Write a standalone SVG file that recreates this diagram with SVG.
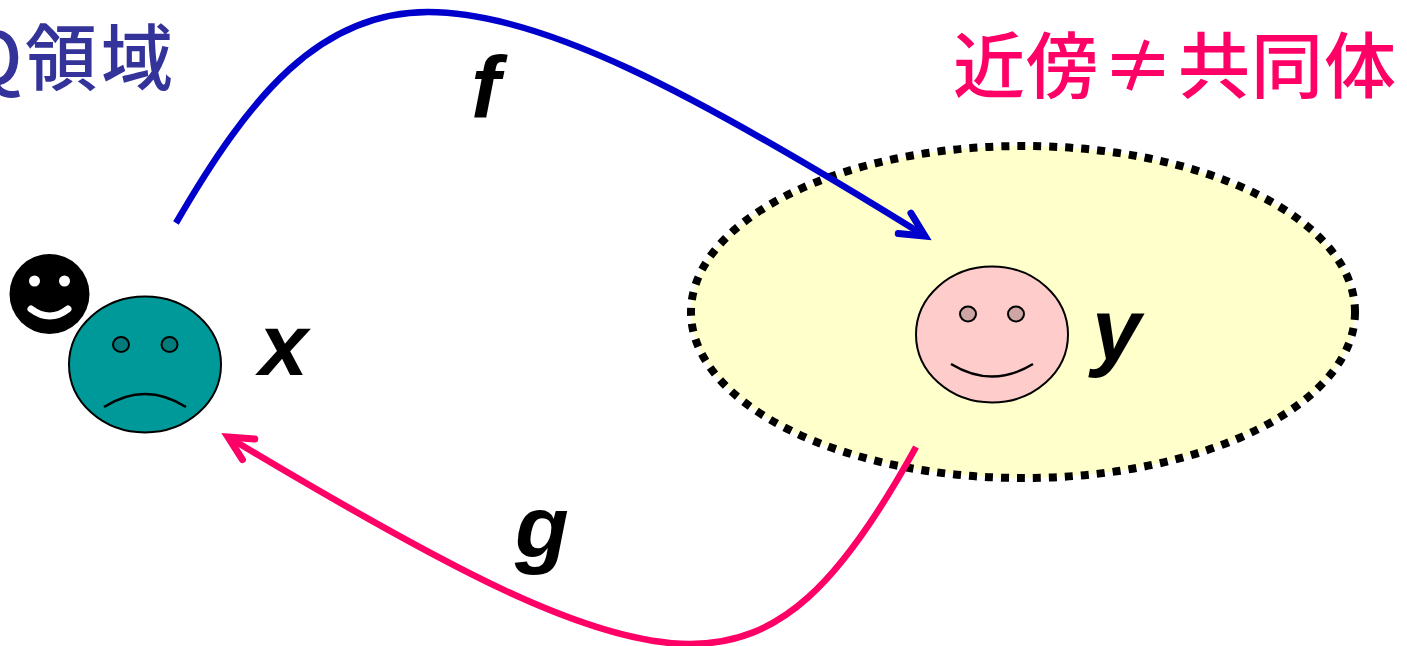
<svg xmlns="http://www.w3.org/2000/svg" width="1407" height="646" viewBox="0 0 1407 646">
<style>
.lbl{font-family:"Liberation Sans",Arial,sans-serif;font-weight:bold;font-style:italic;font-size:88px;fill:#000}
.cjk{font-family:"Noto Sans CJK JP","Liberation Sans",sans-serif;font-size:72px;font-weight:500}
.face{stroke:#000;stroke-width:2}
.mouth{fill:none;stroke:#000;stroke-width:2.500}
.arrow{fill:none;stroke-width:6.500}
</style>
<defs>
<marker id="ab" markerUnits="userSpaceOnUse" markerWidth="40" markerHeight="40" refX="30" refY="15" orient="auto" viewBox="0 0 40 30"><path d="M6 3L30 15L6 27" fill="none" stroke="#0000cc" stroke-width="7" stroke-linecap="round"/></marker>
<marker id="ap" markerUnits="userSpaceOnUse" markerWidth="40" markerHeight="40" refX="30" refY="15" orient="auto" viewBox="0 0 40 30"><path d="M6 3L30 15L6 27" fill="none" stroke="#ff0066" stroke-width="7" stroke-linecap="round"/></marker>
</defs>
<g id="ellipse-node"><ellipse cx="1023" cy="312" rx="332" ry="166" fill="#ffffcc" stroke="#000" stroke-width="8" stroke-dasharray="8 8"/></g>
<g id="connectors">
<path d="M176 223C250 95 320 12 428 12C540 12 690 90 925 236" class="arrow" stroke="#0000cc" marker-end="url(#ab)"/>
<path d="M916 447C840 585 780 644 690 644C590 644 450 570 228 437" class="arrow" stroke="#ff0066" marker-end="url(#ap)"/>
</g>
<g id="title-left"><text y="84" class="cjk" fill="#333399"><tspan x="-32">Q</tspan><tspan x="25">領</tspan><tspan x="101">域</tspan></text></g>
<g id="title-right"><text y="92" class="cjk" fill="#ff0066"><tspan x="953">近</tspan><tspan x="1026">傍</tspan><tspan x="1102">≠</tspan><tspan x="1178">共</tspan><tspan x="1251">同</tspan><tspan x="1324">体</tspan></text></g>
<g id="black-smiley"><circle cx="49.500" cy="294" r="40" fill="#000"/><circle cx="34.500" cy="281" r="5.500" fill="#fff"/><circle cx="64.500" cy="281" r="5.500" fill="#fff"/><path d="M31 309Q50 323 68 309" fill="none" stroke="#fff" stroke-width="7" stroke-linecap="round"/></g>
<g id="x-face"><ellipse cx="145" cy="364.500" rx="76" ry="68" fill="#009999" class="face"/><ellipse cx="121" cy="344.500" rx="8" ry="7.500" fill="#007b7b" class="face"/><ellipse cx="169.500" cy="344.500" rx="8" ry="7.500" fill="#007b7b" class="face"/><path d="M104 407Q145 381 186 407" class="mouth"/></g>
<g id="y-face"><ellipse cx="992" cy="334.500" rx="76" ry="68" fill="#ffcccc" class="face"/><ellipse cx="968" cy="314" rx="8" ry="7.500" fill="#cea5a5" class="face"/><ellipse cx="1016" cy="314" rx="8" ry="7.500" fill="#cea5a5" class="face"/><path d="M951 364Q992 389 1033 364" class="mouth"/></g>
<text x="259" y="375" class="lbl">x</text>
<text x="1092" y="360" class="lbl">y</text>
<text x="471" y="117" class="lbl">f</text>
<text x="515" y="557" class="lbl">g</text>
</svg>
